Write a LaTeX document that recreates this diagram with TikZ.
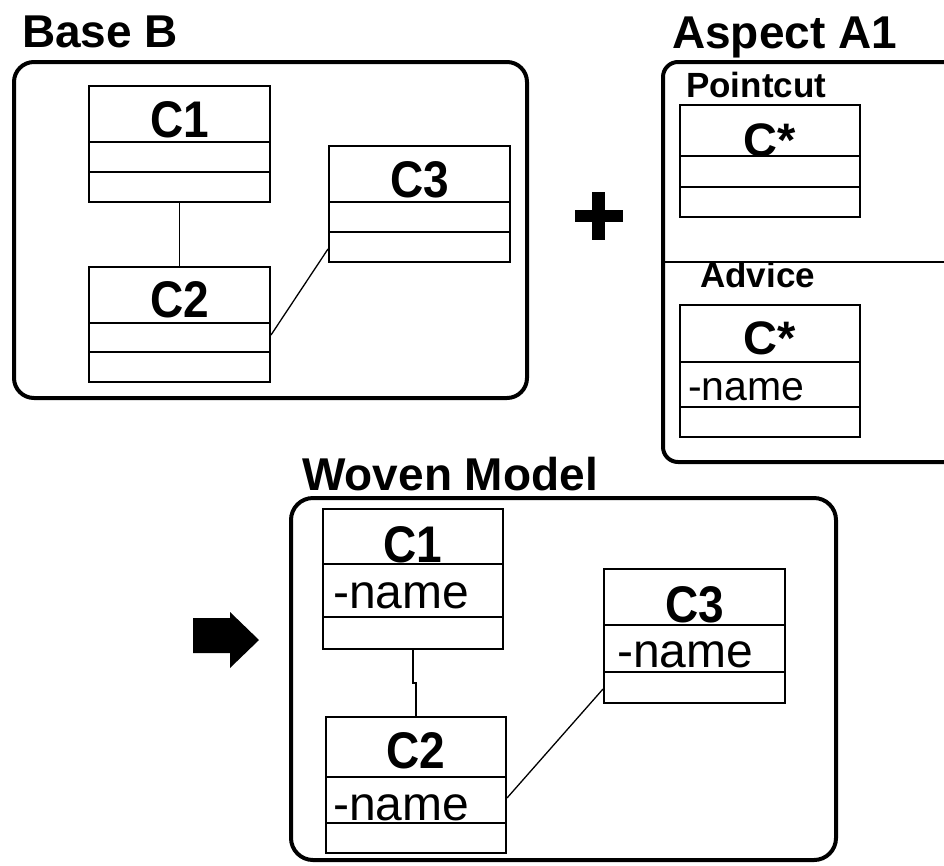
\documentclass[tikz,border=0pt]{standalone}
\usepackage{fontspec}
\setmainfont{Liberation Sans}
\begin{document}
\begin{tikzpicture}[x=1pt,y=-1pt,
  frame/.style={line width=4pt, rounded corners=20pt},
  classbox/.style={draw, line width=2pt, inner sep=0pt, minimum width=181pt},
  part/.style={line width=2pt},
  link/.style={line width=1.3pt},
  heading/.style={font=\fontsize{46}{50}\selectfont\bfseries, inner sep=0pt, anchor=base west},
  sub/.style={font=\fontsize{35}{40}\selectfont\bfseries, inner sep=0pt, anchor=base west},
  title/.style={font=\fontsize{46}{50}\selectfont\bfseries, inner sep=0pt, anchor=base},
  attr/.style={font=\fontsize{41}{46}\selectfont, inner sep=0pt, anchor=base west},
  bigattr/.style={font=\fontsize{48}{52}\selectfont, inner sep=0pt, anchor=base west}]
\useasboundingbox (0,0) rectangle (944,865);

% ---------- Base B ----------
\node[heading] (hb) at (22,47) {Base B};
\draw[frame] (14,62) rectangle (527,398);

\node[classbox, minimum height=116pt] (c1) at (179.5,144) {};
\draw[part] (c1.west |- 0,142) -- (c1.east |- 0,142);
\draw[part] (c1.west |- 0,172) -- (c1.east |- 0,172);
\node[title] (c1t) at (179.5,137) {\scalebox{1}[1.12]{C1}};

\node[classbox, minimum height=115pt] (c2) at (179.5,324.5) {};
\draw[part] (c2.west |- 0,323) -- (c2.east |- 0,323);
\draw[part] (c2.west |- 0,352) -- (c2.east |- 0,352);
\node[title] (c2t) at (179.5,317) {\scalebox{1}[1.12]{C2}};

\node[classbox, minimum height=116pt] (c3) at (419.5,204) {};
\draw[part] (c3.west |- 0,202) -- (c3.east |- 0,202);
\draw[part] (c3.west |- 0,232) -- (c3.east |- 0,232);
\node[title] (c3t) at (419.5,197) {\scalebox{1}[1.12]{C3}};

\draw[link] (c1.south) -- (c2.north);
\draw[link] ([yshift=-69pt]c2.north east) -- ([yshift=14pt]c3.south west);

% ---------- plus sign ----------
\draw[line width=12.5pt] (575,216) -- (623,216);
\draw[line width=13pt] (598.5,192) -- (598.5,240);

% ---------- Aspect A1 ----------
\node[heading] (ha) at (672,48) {Aspect A1};
\draw[frame, rounded corners=15pt] (950,62) -- (663,62) -- (663,462) -- (950,462);
\draw[line width=1.5pt] (663,262) -- (946,262);

\node[sub] (pc) at (686,97) {Pointcut};
\node[classbox, minimum width=180pt, minimum height=112pt] (p1) at (770,161) {};
\draw[part] (p1.west |- 0,156) -- (p1.east |- 0,156);
\draw[part] (p1.west |- 0,187) -- (p1.east |- 0,187);
\node[title, font=\fontsize{47}{50}\selectfont\bfseries] (p1t) at (770,156) {C*};

\node[sub] (ad) at (700,287) {Advice};
\node[classbox, minimum width=180pt, minimum height=132pt] (a1) at (770,371) {};
\draw[part] (a1.west |- 0,362) -- (a1.east |- 0,362);
\draw[part] (a1.west |- 0,407) -- (a1.east |- 0,407);
\node[title, font=\fontsize{47}{50}\selectfont\bfseries] (a1t) at (770,354) {C*};
\node[attr] (a1n) at (688,400) {-name};

% ---------- arrow ----------
\fill (193,618) -- (230,618) -- (230,612) -- (259,640) -- (230,668) -- (230,653) -- (193,653) -- cycle;

% ---------- Woven Model ----------
\node[heading] (hw) at (302,490) {Woven Model};
\draw[frame, rounded corners=22pt] (291,498) rectangle (836,860);

\node[classbox, minimum width=180pt, minimum height=140pt] (w1) at (413,579) {};
\draw[part] (w1.west |- 0,564) -- (w1.east |- 0,564);
\draw[part] (w1.west |- 0,617) -- (w1.east |- 0,617);
\node[title] (w1t) at (413,562) {\scalebox{1}[1.12]{C1}};
\node[bigattr] (w1n) at (333,608) {-name};

\node[classbox, minimum width=180pt, minimum height=136pt] (w2) at (416,785) {};
\draw[part] (w2.west |- 0,777) -- (w2.east |- 0,777);
\draw[part] (w2.west |- 0,823) -- (w2.east |- 0,823);
\node[title] (w2t) at (416,768) {\scalebox{1}[1.12]{C2}};
\node[bigattr] (w2n) at (333,820) {-name};

\node[classbox, minimum height=134pt] (w3) at (694.5,636) {};
\draw[part] (w3.west |- 0,625) -- (w3.east |- 0,625);
\draw[part] (w3.west |- 0,672) -- (w3.east |- 0,672);
\node[title] (w3t) at (694.5,622) {\scalebox{1}[1.12]{C3}};
\node[bigattr] (w3n) at (617,667) {-name};

\draw[link] (w1.south) -- (w1.south |- 0,683) -- (w2.north |- 0,683) -- (w2.north);
\draw[link] ([yshift=-82pt]w2.north east) -- ([yshift=15pt]w3.south west);
\end{tikzpicture}
\end{document}
